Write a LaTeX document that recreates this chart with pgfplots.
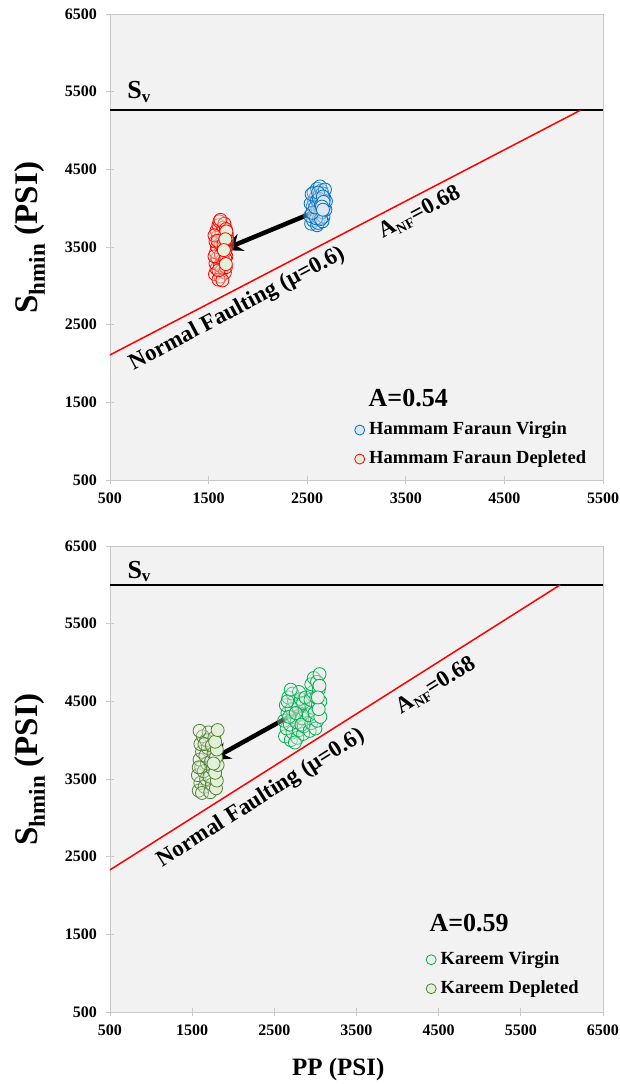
\documentclass[border=0pt]{standalone}
\usepackage{fontspec}
\setmainfont{Liberation Serif}
\usepackage{pgfplots}
\pgfplotsset{compat=1.18}
\usetikzlibrary{arrows.meta}

\definecolor{bgc}{HTML}{F2F2F2}
\definecolor{axc}{HTML}{C8C8C8}
\definecolor{hfblue}{HTML}{0070C0}
\definecolor{hfbluefill}{HTML}{DDE6F4}
\definecolor{hfred}{HTML}{FF0000}
\definecolor{palegreen}{HTML}{E2EFD9}
\definecolor{kgreen}{HTML}{00B050}
\definecolor{kgreenfill}{HTML}{EDEDED}
\definecolor{kdark}{HTML}{548235}

\tikzset{txt/.style={font=\bfseries\fontsize{23}{23}\selectfont}}

\pgfplotsset{
 mystyle/.style={
  scale only axis, width=493pt, height=466pt,
  axis background/.style={fill=bgc},
  axis line style={axc, line width=0.8pt},
  tick style={axc, line width=0.8pt},
  major tick length=8pt,
  tick align=center,
  xtick pos=left, ytick pos=left,
  ymin=500, ymax=6500, ytick={500,1500,...,6500},
  xmin=500,
  /pgf/number format/assume math mode=true,
  /pgf/number format/set thousands separator={},
  ticklabel style={font=\bfseries\fontsize{16}{16}\selectfont},
  yticklabel style={anchor=east, inner sep=0pt, xshift=-9pt},
  xticklabel style={anchor=north, inner sep=0pt, yshift=-9pt},
  ylabel={\fontsize{33}{33}\selectfont S\textsubscript{\fontsize{23}{23}\selectfont hmin} (PSI)},
  ylabel style={font=\bfseries, at={(axis description cs:-0.163,0.52)}, anchor=center, rotate=0},
  legend style={draw=none, fill=none, inner sep=0pt,
    font=\bfseries\fontsize{18.5}{18.5}\selectfont, legend cell align=left,
    row sep=10pt,
    nodes={inner sep=1pt, text height=13pt, text depth=4pt},
    /tikz/every odd column/.style={column sep=3.5pt}},
  legend image post style={mark size=5pt, /tikz/every mark/.append style={fill opacity=1}},
  pts/.style={only marks, mark=*, mark size=6.5pt},
 }
}

\begin{document}
\begin{tikzpicture}
\path[use as bounding box] (-110pt,-72pt) rectangle (509pt,1012pt);

% ---------------- top panel ----------------
\begin{axis}[mystyle, at={(0,532pt)}, anchor=south west,
  xmax=5500, xtick={500,1500,...,5500},
  legend style={at={(axis description cs:0.496,0.128)}, anchor=north west}]
\addplot[black, line width=2pt, forget plot] coordinates {(500,5260) (5500,5260)};
\addplot[hfred, line width=1.5pt, forget plot] coordinates {(500,2110) (5270,5260)};
\addplot[pts, mark options={draw=hfblue, fill=hfbluefill, fill opacity=0.35, line width=0.8pt}] coordinates {
(2540,3800) (2560,3840) (2575,3900) (2590,3960) (2555,4020) (2570,4080) (2585,4140) (2565,4200) (2600,4250)
(2530,3900) (2535,4060) (2545,4180) (2600,3780)
(2610,3810) (2620,3870) (2630,3930) (2605,3990) (2615,4050) (2640,4110) (2625,4170) (2645,4230)
(2630,4280) (2655,3830) (2665,3890) (2650,3950) (2670,4010) (2660,4070) (2675,4130) (2655,4190)
(2680,4240) (2590,3870) (2600,4100) (2640,3860) (2685,3980) (2690,4090) (2550,3940) (2580,4010)
(2620,4120) (2610,4200) (2660,4150) (2640,4040)};
\addlegendentry{Hammam Faraun Virgin}
\addplot[pts, forget plot, mark options={draw=hfblue, fill=hfbluefill, line width=0.8pt}] coordinates {
(2665,4080) (2650,4020) (2660,3980)};
\addplot[pts, mark options={draw=hfred, fill=palegreen, fill opacity=0.35, line width=0.8pt}] coordinates {
(1565,3150) (1580,3220) (1570,3290) (1590,3360) (1575,3430) (1585,3500) (1570,3570) (1595,3640)
(1580,3710) (1600,3780) (1610,3830) (1620,3120) (1630,3190) (1615,3260) (1640,3330) (1625,3400)
(1645,3470) (1620,3540) (1640,3610) (1630,3680) (1650,3750) (1660,3800) (1665,3170) (1675,3240)
(1600,3080) (1640,3070) (1560,3380) (1560,3650) (1620,3850)
(1660,3310) (1680,3380) (1670,3450) (1690,3520) (1665,3590) (1685,3660) (1675,3730) (1600,3200)
(1590,3580) (1650,3540) (1690,3600) (1670,3350)};
\addlegendentry{Hammam Faraun Depleted}
\addplot[pts, forget plot, mark options={draw=hfred, fill=palegreen, line width=0.8pt}] coordinates {
(1675,3280) (1680,3700) (1670,3600) (1655,3460)};
\addplot[black, line width=4.5pt, -{Stealth[length=20pt,width=18pt]}, forget plot] coordinates {(2610,3970) (1640,3460)};
\node[anchor=base west, font=\bfseries\fontsize{26}{26}\selectfont] at (axis cs:640,5410) {S\textsubscript{\fontsize{17}{17}\selectfont v}};
\node[txt, rotate=28] at (axis cs:1790,2700) {Normal Faulting (μ=0.6)};
\node[txt, rotate=28] at (axis cs:3640,3940) {A\textsubscript{\fontsize{14}{14}\selectfont NF}=0.68};
\node[font=\bfseries\fontsize{26}{26}\selectfont] at (axis cs:3525,1550) {A=0.54};
\end{axis}

% ---------------- bottom panel ----------------
\begin{axis}[mystyle, at={(0,0)}, anchor=south west,
  xmax=6500, xtick={500,1500,...,6500},
  xlabel={PP (PSI)},
  xlabel style={font=\bfseries\fontsize{25}{25}\selectfont, at={(axis description cs:0.463,-0.123)}, anchor=center},
  legend style={at={(axis description cs:0.641,0.133)}, anchor=north west}]
\addplot[black, line width=2pt, forget plot] coordinates {(500,6000) (6500,6000)};
\addplot[hfred, line width=1.5pt, forget plot] coordinates {(500,2330) (5980,6000)};
\addplot[pts, mark options={draw=kgreen, fill=kgreenfill, fill opacity=0.35, line width=0.8pt}] coordinates {
(2630,4050) (2650,4150) (2620,4250) (2660,4350) (2640,4450) (2670,4550) (2700,4000) (2720,4100)
(2690,4200) (2730,4300) (2710,4400) (2740,4500) (2720,4600) (2780,4030) (2800,4130) (2770,4230)
(2810,4330) (2790,4430) (2820,4530) (2800,4620) (2850,4080) (2860,4180) (2840,4280) (2870,4380)
(2850,4480) (2680,4300) (2760,4350) (2830,4200) (2750,3970) (2660,4500) (2700,4650) (2880,4550)
(2930,4120) (2950,4220) (2920,4320) (2960,4420) (2940,4520) (2970,4620) (2950,4720) (2980,4800)
(3000,4150) (3020,4250) (2990,4350) (3030,4450) (3010,4550) (3040,4650) (3020,4750) (3050,4850)};
\addlegendentry{Kareem Virgin}
\addplot[pts, forget plot, mark options={draw=kgreen, fill=kgreenfill, line width=0.8pt}] coordinates {
(3060,4300) (3060,4500) (3040,4400) (3050,4700) (3030,4550)};
\addplot[pts, mark options={draw=kdark, fill=palegreen, fill opacity=0.35, line width=0.8pt}] coordinates {
(1580,3350) (1600,3450) (1570,3550) (1610,3650) (1590,3750) (1620,3850) (1600,3950) (1630,4050)
(1650,3400) (1670,3500) (1640,3600) (1680,3700) (1660,3800) (1690,3900) (1670,4000) (1700,4100)
(1590,4120) (1620,3320) (1580,3650) (1650,3950)
(1720,3330) (1740,3430) (1710,3530) (1750,3630) (1730,3730) (1760,3830) (1740,3930) (1770,4030)};
\addlegendentry{Kareem Depleted}
\addplot[pts, forget plot, mark options={draw=kdark, fill=palegreen, line width=0.8pt}] coordinates {
(1790,3380) (1800,3480) (1780,3580) (1810,3680) (1790,3780) (1800,3880) (1780,3980) (1810,4130)
(1760,3700)};
\addplot[black, line width=4.5pt, -{Stealth[length=20pt,width=18pt]}, forget plot] coordinates {(2860,4410) (1720,3740)};
\node[anchor=base west, font=\bfseries\fontsize{26}{26}\selectfont] at (axis cs:670,6085) {S\textsubscript{\fontsize{17}{17}\selectfont v}};
\node[txt, rotate=32.3] at (axis cs:2340,3250) {Normal Faulting (μ=0.6)};
\node[txt, rotate=32.3] at (axis cs:4470,4700) {A\textsubscript{\fontsize{14}{14}\selectfont NF}=0.68};
\node[font=\bfseries\fontsize{26}{26}\selectfont] at (axis cs:4870,1650) {A=0.59};
\end{axis}
\end{tikzpicture}
\end{document}
